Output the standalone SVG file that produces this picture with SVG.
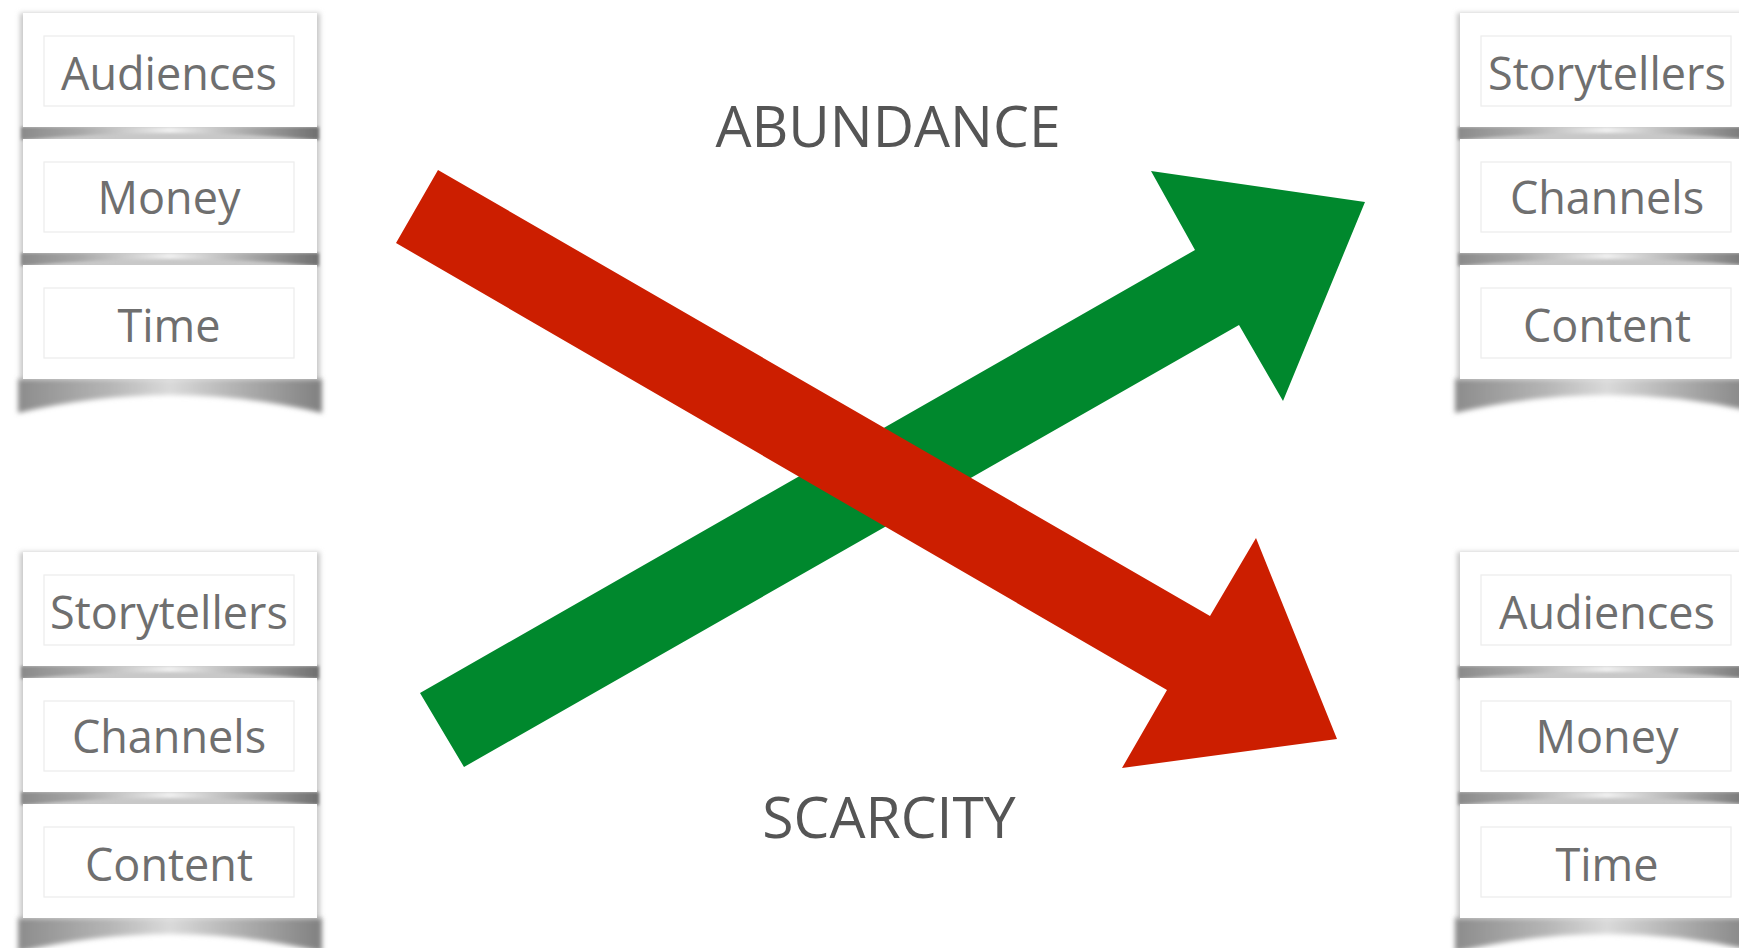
<svg xmlns="http://www.w3.org/2000/svg" width="1739" height="948" viewBox="0 0 1739 948">
<style>
.card{fill:#fff}
.edge{fill:#c8c8c8;filter:url(#blur2)}
.inner{fill:#fff;stroke:#ececec;stroke-width:1.2}
.lbl{font-family:"Open Sans","Noto Sans",sans-serif;font-size:45px;fill:#6f6f6f;text-anchor:middle}
.head{font-family:"Open Sans","Noto Sans",sans-serif;font-size:57px;fill:#555;text-anchor:middle}
.gap{fill:url(#curl);filter:url(#blur1)}
.foot{fill:url(#curl2);filter:url(#blur2)}
</style>
<defs>
<filter id="blur1" x="-5%" y="-100%" width="110%" height="300%"><feGaussianBlur stdDeviation="1.5"/></filter>
<filter id="blur2" x="-5%" y="-50%" width="110%" height="200%"><feGaussianBlur stdDeviation="2.5"/></filter>
<linearGradient id="curl" x1="0" x2="1" y1="0" y2="0">
<stop offset="0" stop-color="#8a8a8a"/><stop offset="0.2" stop-color="#a8a8a8"/><stop offset="0.5" stop-color="#f0f0f0"/><stop offset="0.8" stop-color="#a0a0a0"/><stop offset="1" stop-color="#6f6f6f"/>
</linearGradient>
<linearGradient id="curl2" x1="0" x2="1" y1="0" y2="0">
<stop offset="0" stop-color="#8c8c8c"/><stop offset="0.3" stop-color="#b5b5b5"/><stop offset="0.5" stop-color="#dadada"/><stop offset="0.7" stop-color="#b5b5b5"/><stop offset="1" stop-color="#808080"/>
</linearGradient>
<g id="stackbg">
<rect class="edge" x="-3" y="0" width="300" height="367"/>
<path class="gap" d="M-2,114 L296,114 L296,127 Q147,113 -2,127 Z"/>
<path class="gap" d="M-2,240 L296,240 L296,253 Q147,239 -2,253 Z"/>
<path class="foot" d="M-5,366 L299,366 L299,400 Q147,364 -5,400 Z"/>
<rect class="card" x="0" y="0" width="294" height="114"/>
<rect class="card" x="0" y="126" width="294" height="114"/>
<rect class="card" x="0" y="252" width="294" height="114"/>
<rect class="inner" x="21" y="23" width="250" height="70"/>
<rect class="inner" x="21" y="149" width="250" height="70"/>
<rect class="inner" x="21" y="275" width="250" height="70"/>
</g>
</defs>
<rect width="1739" height="948" fill="#fff"/>

<g id="stack-top-left" transform="translate(23,13)">
<use href="#stackbg"/>
<g id="tl-audiences"><text class="lbl" x="146" y="77">Audiences</text></g>
<g id="tl-money"><text class="lbl" x="146" y="201">Money</text></g>
<g id="tl-time"><text class="lbl" x="146" y="329">Time</text></g>
</g>

<g id="stack-top-right" transform="translate(1460,13)">
<use href="#stackbg"/>
<g id="tr-storytellers"><text class="lbl" x="147" y="77">Storytellers</text></g>
<g id="tr-channels"><text class="lbl" x="147" y="201">Channels</text></g>
<g id="tr-content"><text class="lbl" x="147" y="329">Content</text></g>
</g>

<g id="stack-bottom-left" transform="translate(23,552)">
<use href="#stackbg"/>
<g id="bl-storytellers"><text class="lbl" x="146" y="77">Storytellers</text></g>
<g id="bl-channels"><text class="lbl" x="146" y="201">Channels</text></g>
<g id="bl-content"><text class="lbl" x="146" y="329">Content</text></g>
</g>

<g id="stack-bottom-right" transform="translate(1460,552)">
<use href="#stackbg"/>
<g id="br-audiences"><text class="lbl" x="147" y="77">Audiences</text></g>
<g id="br-money"><text class="lbl" x="147" y="201">Money</text></g>
<g id="br-time"><text class="lbl" x="147" y="329">Time</text></g>
</g>

<g id="connectors">
<polygon id="arrow-abundance" fill="#00882d" points="420,693 1195,250 1151,171 1365,202 1283,401 1239,325 464,767"/>
<polygon id="arrow-scarcity" fill="#cc1e00" points="438,170 1210,616 1256,538 1337,739 1122,768 1167,690 396,243"/>
</g>

<g id="label-abundance"><text class="head" x="888" y="147">ABUNDANCE</text></g>
<g id="label-scarcity"><text class="head" x="889" y="838">SCARCITY</text></g>
</svg>
